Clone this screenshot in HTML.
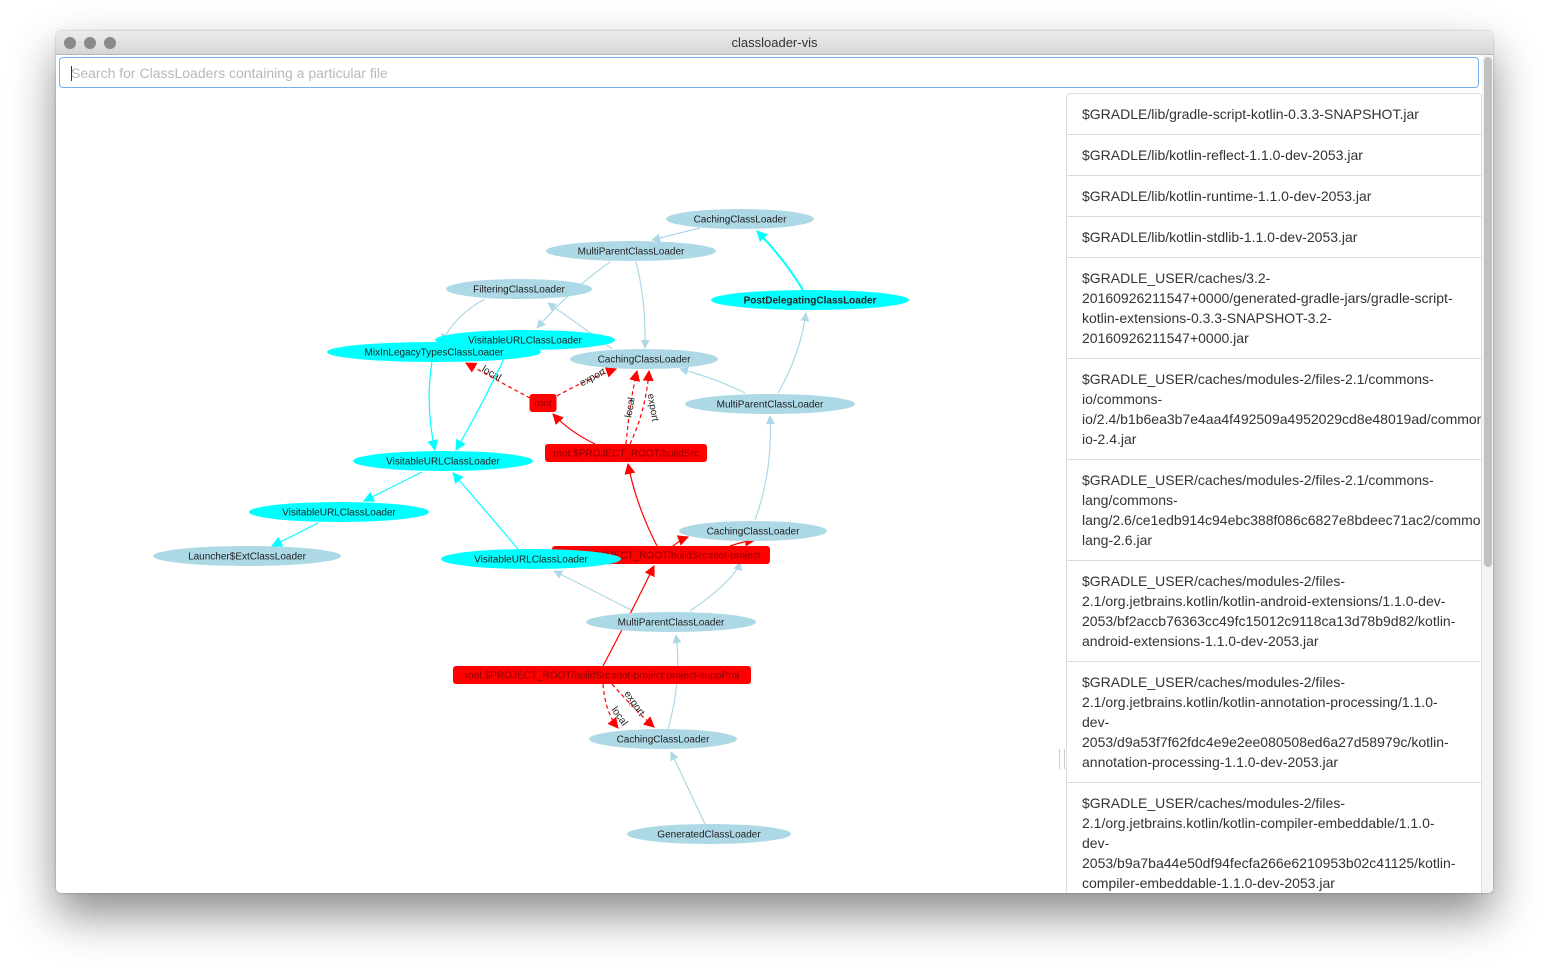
<!DOCTYPE html>
<html><head><meta charset="utf-8"><style>
html,body{margin:0;padding:0;background:#fff;width:1549px;height:974px;overflow:hidden;font-family:"Liberation Sans",sans-serif}
#win{position:absolute;left:56px;top:31px;width:1437px;height:862px;background:#fff;border-radius:5px;box-shadow:0 22px 45px rgba(0,0,0,0.45),0 0 2px rgba(0,0,0,0.3);overflow:hidden}
#title{position:absolute;left:0;top:0;width:100%;height:23px;background:linear-gradient(#ececec,#d6d6d6);border-bottom:1px solid #b8b8b8;text-align:center;font-size:13px;line-height:24px;color:#333}
.dot{position:absolute;top:6px;width:12px;height:12px;border-radius:50%;background:#8a8a8c}
#search{position:absolute;left:3px;top:26px;width:1420px;height:31px;border:1px solid #76aef0;border-radius:4px;box-sizing:border-box;font-size:14px;color:#b8b8b8;line-height:30px;padding-left:11px}
#caret{position:absolute;left:11px;top:8px;width:1px;height:15px;background:#333}
#scroll{position:absolute;left:1426px;top:24px;width:11px;height:838px;background:#f4f4f4}
#thumb{position:absolute;left:1428px;top:26px;width:8px;height:510px;border-radius:4px;background:#c1c1c1}
#list{position:absolute;left:1010px;top:62px;width:414px;height:800px;border-left:1px solid #ddd;border-right:1px solid #ddd;border-top:1px solid #ddd;border-radius:4px 4px 0 0;overflow:hidden}
.item{border-bottom:1px solid #ddd;padding:10px 0 10px 15px;font-size:14px;line-height:20px;color:#333;white-space:nowrap}
#graph{position:absolute;left:0;top:0}
#split{position:absolute;left:1003px;top:718px;width:4px;height:20px;border-left:1px solid #ccc;border-right:1px solid #ccc}
</style></head><body>
<div id="win">
<div id="title">classloader-vis
<div class="dot" style="left:8px"></div>
<div class="dot" style="left:28px"></div>
<div class="dot" style="left:48px"></div>
</div>
<div id="search"><div id="caret"></div>Search for ClassLoaders containing a particular file</div>
<svg id="graph" width="1005" height="862">
<defs>
<marker id="a-lb" viewBox="0 0 10 10" refX="9" refY="5" markerWidth="9" markerHeight="9" markerUnits="userSpaceOnUse" orient="auto"><path d="M0,0L10,5L0,10z" fill="#add8e6"/></marker>
<marker id="a-cy" viewBox="0 0 10 10" refX="9" refY="5" markerWidth="11" markerHeight="11" markerUnits="userSpaceOnUse" orient="auto"><path d="M0,0L10,5L0,10z" fill="#00ffff"/></marker>
<marker id="a-rd" viewBox="0 0 10 10" refX="9" refY="5" markerWidth="11" markerHeight="11" markerUnits="userSpaceOnUse" orient="auto"><path d="M0,0L10,5L0,10z" fill="#ff0000"/></marker>
</defs>
<g id="edges" transform="translate(-56,-31)"></g>
<g id="nodes" transform="translate(-56,-31)"></g>
</svg>
<div id="split"></div>
<div id="list">
<div class="item">$GRADLE/lib/gradle-script-kotlin-0.3.3-SNAPSHOT.jar</div>
<div class="item">$GRADLE/lib/kotlin-reflect-1.1.0-dev-2053.jar</div>
<div class="item">$GRADLE/lib/kotlin-runtime-1.1.0-dev-2053.jar</div>
<div class="item">$GRADLE/lib/kotlin-stdlib-1.1.0-dev-2053.jar</div>
<div class="item">$GRADLE_USER/caches/3.2-<br>20160926211547+0000/generated-gradle-jars/gradle-script-<br>kotlin-extensions-0.3.3-SNAPSHOT-3.2-<br>20160926211547+0000.jar</div>
<div class="item">$GRADLE_USER/caches/modules-2/files-2.1/commons-<br>io/commons-<br>io/2.4/b1b6ea3b7e4aa4f492509a4952029cd8e48019ad/commons-<br>io-2.4.jar</div>
<div class="item">$GRADLE_USER/caches/modules-2/files-2.1/commons-<br>lang/commons-<br>lang/2.6/ce1edb914c94ebc388f086c6827e8bdeec71ac2/commons-<br>lang-2.6.jar</div>
<div class="item">$GRADLE_USER/caches/modules-2/files-<br>2.1/org.jetbrains.kotlin/kotlin-android-extensions/1.1.0-dev-<br>2053/bf2accb76363cc49fc15012c9118ca13d78b9d82/kotlin-<br>android-extensions-1.1.0-dev-2053.jar</div>
<div class="item">$GRADLE_USER/caches/modules-2/files-<br>2.1/org.jetbrains.kotlin/kotlin-annotation-processing/1.1.0-<br>dev-<br>2053/d9a53f7f62fdc4e9e2ee080508ed6a27d58979c/kotlin-<br>annotation-processing-1.1.0-dev-2053.jar</div>
<div class="item">$GRADLE_USER/caches/modules-2/files-<br>2.1/org.jetbrains.kotlin/kotlin-compiler-embeddable/1.1.0-<br>dev-<br>2053/b9a7ba44e50df94fecfa266e6210953b02c41125/kotlin-<br>compiler-embeddable-1.1.0-dev-2053.jar</div>
</div>
<div id="scroll"></div>
<div id="thumb"></div>
</div>
<script>
const NS='http://www.w3.org/2000/svg';
// nodes: label, kind
const nodeLabels=['CachingClassLoader','MultiParentClassLoader','FilteringClassLoader','PostDelegatingClassLoader','MixInLegacyTypesClassLoader','VisitableURLClassLoader','CachingClassLoader','root','MultiParentClassLoader','VisitableURLClassLoader','root:$PROJECT_ROOT/buildSrc','VisitableURLClassLoader','Launcher$ExtClassLoader','root:$PROJECT_ROOT/buildSrc:root-project','CachingClassLoader','VisitableURLClassLoader','MultiParentClassLoader','root:$PROJECT_ROOT/buildSrc:root-project:project-suppProj','CachingClassLoader','GeneratedClassLoader'];
const nodeKinds=['lb','lb','lb','cyb','cy','cy','lb','rd','lb','cy','rd','cy','lb','rd','lb','cy','lb','rd','lb','lb'];
const nodeX=[740,631,519,810,434,525,644,543,770,443,626,339,247,661,753,531,671,602,663,709];
const nodeY=[219,251,289,300,352,340,359,403,404,461,453,512,556,555,531,559,622,675,739,834];
const nodeW=[148,170,146,198,214,180,148,27,170,180,162,180,188,218,148,180,170,298,148,164];
// edges: path d, color, dash, label
const edgePaths=['M700,228 Q675,234 652,240','M803,290 Q785,260 757,231','M610,262 Q570,290 537,328','M636,262 Q646,300 645,348','M612,349 Q580,325 548,303','M485,299 Q455,315 442,342','M778,393 Q800,355 806,313','M745,393 Q715,378 680,369','M530,398 Q500,382 466,363','M557,396 Q585,380 616,369','M595,444 Q570,432 553,414','M626,444 Q630,400 637,371','M630,444 Q646,410 649,371','M432,362 Q425,405 435,450','M508,350 Q485,400 456,450','M422,472 Q392,487 364,501','M318,523 Q295,535 272,546','M518,549 Q485,510 453,473','M657,546 Q636,505 628,464','M755,520 Q773,470 770,416','M673,546 Q680,540 688,537','M730,546 Q745,541 755,540','M633,611 Q592,590 554,571','M690,611 Q735,580 740,562','M603,666 Q630,615 654,566','M668,729 Q682,680 676,635','M603,684 Q605,712 618,728','M612,684 Q635,710 654,727','M705,824 Q688,788 671,752'];
const edgeColors=['lb','cy','lb','lb','lb','lb','lb','lb','rd','rd','rd','rd','rd','cy','cy','cy','cy','cy','rd','lb','rd','rd','lb','lb','rd','lb','rd','rd','lb'];
const edgeDash=[0,0,0,0,0,0,0,0,1,1,0,1,1,0,0,0,0,0,0,0,0,0,0,0,0,0,1,1,0];
const edgeLabels=['','','','','','','','','local','export','','local','export','','','','','','','','','','','','','','local','export',''];
const edgeLabelPos=[null,null,null,null,null,null,null,null,[490,376,30],[594,380,-28],null,[633,408,-80],[650,408,80],null,null,null,null,null,null,null,null,null,null,null,null,null,[617,718,55],[632,705,55],null];
const col={lb:'#add8e6',cy:'#00ffff',cyb:'#00ffff',rd:'#ff0000'};
const eg=document.getElementById('edges'),ng=document.getElementById('nodes');
edgePaths.forEach((d,i)=>{
 const p=document.createElementNS(NS,'path');
 
 
 p.setAttribute('d',d);p.setAttribute('fill','none');
 p.setAttribute('stroke',col[edgeColors[i]]);
 p.setAttribute('stroke-width',edgeColors[i]==='cy'&&i===1?2:1.2);
 if(edgeDash[i])p.setAttribute('stroke-dasharray','4,3');
 p.setAttribute('marker-end','url(#a-'+edgeColors[i]+')');
 eg.appendChild(p);
 if(edgeLabels[i]){const lp=edgeLabelPos[i];const t=document.createElementNS(NS,'text');
  
  
  t.setAttribute('x',lp[0]);t.setAttribute('y',lp[1]);t.setAttribute('font-size','10');t.setAttribute('text-anchor','middle');t.setAttribute('fill','#222');
  t.setAttribute('transform','rotate('+lp[2]+' '+lp[0]+' '+lp[1]+')');t.textContent=edgeLabels[i];eg.appendChild(t);}
});
nodeLabels.forEach((lab,i)=>{
 const g=document.createElementNS(NS,'g');
 
 
 const k=nodeKinds[i],x=nodeX[i],y=nodeY[i],w=nodeW[i];
 let s;
 if(k==='rd'){s=document.createElementNS(NS,'rect');s.setAttribute('x',x-w/2);s.setAttribute('y',y-9);s.setAttribute('width',w);s.setAttribute('height',18);s.setAttribute('rx',3);}
 else{s=document.createElementNS(NS,'ellipse');s.setAttribute('cx',x);s.setAttribute('cy',y);s.setAttribute('rx',w/2);s.setAttribute('ry',10);}
 s.setAttribute('fill',col[k]);g.appendChild(s);
 const t=document.createElementNS(NS,'text');
 t.setAttribute('x',x);t.setAttribute('y',y+3.5);t.setAttribute('text-anchor','middle');t.setAttribute('font-size','10');
 t.setAttribute('fill',k==='rd'?'#8b0000':'#222');if(k==='cyb')t.setAttribute('font-weight','bold');
 t.textContent=lab;g.appendChild(t);ng.appendChild(g);
});
</script>
</body></html>
